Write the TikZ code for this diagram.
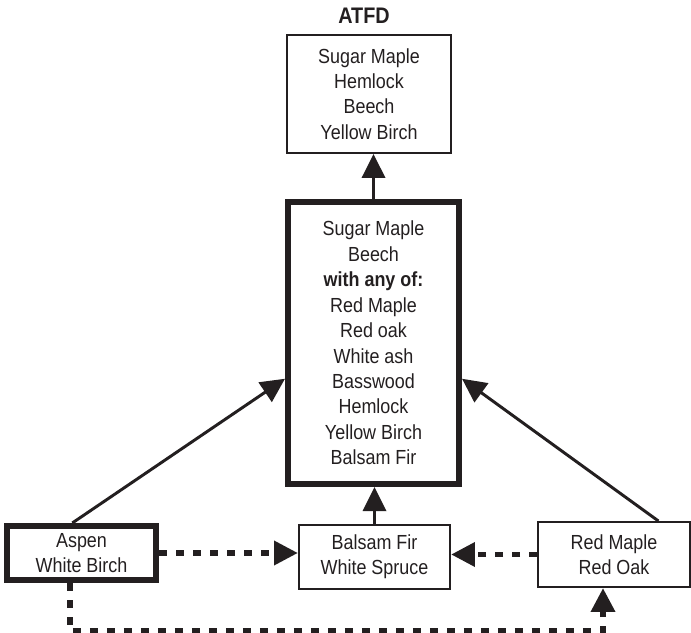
\documentclass[tikz,border=0pt]{standalone}
\usepackage{fontspec}
\setmainfont{Liberation Sans}[FakeStretch=0.88]
\usetikzlibrary{positioning, arrows.meta, calc}
\definecolor{ink}{HTML}{231F20}

\begin{document}
\begin{tikzpicture}[
    box/.style={draw=ink, line width=1.4pt, align=center, inner sep=0pt, text=ink,
      font=\fontsize{14.5}{18.1}\selectfont},
    heavybox/.style={box, line width=4.3pt},
    link/.style={draw=ink, line width=2.1pt, -{Triangle[length=0.6cm, width=0.58cm]}},
    dashlink/.style={link, line width=4.2pt, dash pattern=on 0.2cm off 0.225cm},
  ]
  \useasboundingbox (0,0) rectangle (17.275,15.8);

  % target stand and the mixed stand feeding it
  \node[text=ink, anchor=base, font=\bfseries\fontsize{16}{18}\selectfont] (title) at (9.1,15.2) {ATFD};
  \node[box, minimum width=4.1cm, minimum height=2.95cm] (atfd) at (9.225,13.45)
    {Sugar Maple\\Hemlock\\Beech\\Yellow Birch};
  \node[heavybox, minimum width=4.275cm, minimum height=7.05cm] (mixed) at (9.3375,7.225)
    {Sugar Maple\\Beech\\\textbf{with any of:}\\Red Maple\\Red oak\\White ash\\Basswood\\Hemlock\\Yellow Birch\\Balsam Fir};

  % early stands along the bottom
  \node[heavybox, minimum width=3.725cm, minimum height=1.35cm] (aspen) at (2.0375,1.975)
    {Aspen\\White Birch};
  \node[box, minimum width=3.775cm, minimum height=1.6cm] (fir) at (9.3625,1.875)
    {Balsam Fir\\White Spruce};
  \node[box, minimum width=3.8cm, minimum height=1.625cm] (redoak) at (15.35,1.9375)
    {Red Maple\\Red Oak};

  \draw[link] (mixed.north) -- (mixed.north |- atfd.south);
  \draw[link] (fir.north) -- (fir.north |- mixed.south);
  \draw[link] (aspen.107) -- (mixed.202);
  \draw[link] (redoak.37) -- (mixed.338);

  \draw[dashlink] (aspen.east) -- (aspen.east -| fir.west);
  \draw[dashlink] (redoak.west) -- (redoak.west -| fir.east);
  \draw[dashlink] ([xshift=-0.29cm]aspen.south) -- ++(0,-1.2) -| ([xshift=-0.275cm]redoak.south);
\end{tikzpicture}
\end{document}
